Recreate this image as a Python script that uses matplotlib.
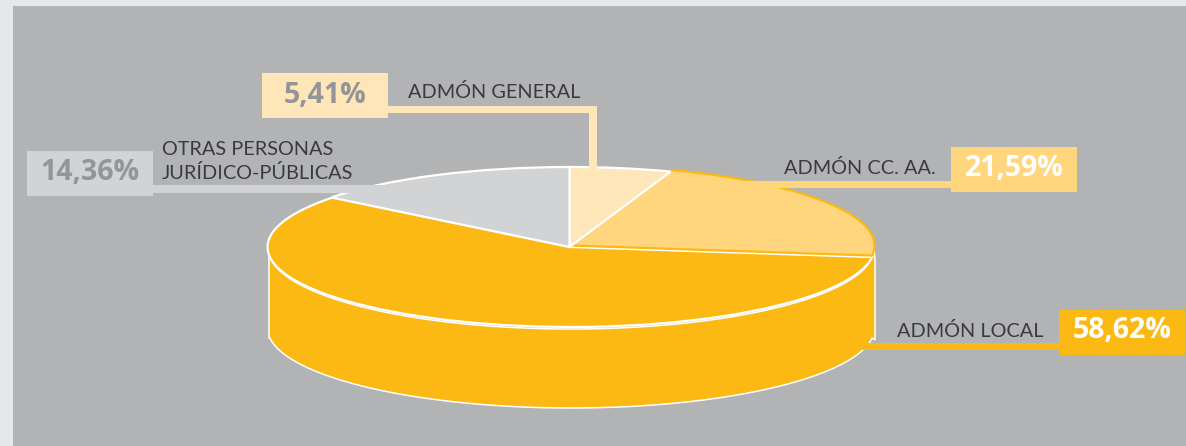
import numpy as np
import matplotlib
matplotlib.use("Agg")
import matplotlib.pyplot as plt
from matplotlib.patches import Rectangle, Polygon
from matplotlib.transforms import Affine2D

# values, clockwise from the top of the pie
names = ["ADMÓN GENERAL", "ADMÓN CC. AA.", "ADMÓN LOCAL", "OTRAS PERSONAS\nJURÍDICO-PÚBLICAS"]
values = [5.41, 21.59, 58.62, 14.36]
value_labels = ["5,41%", "21,59%", "58,62%", "14,36%"]
colors = ["#FFE6B9", "#FFD57E", "#FDB913", "#D1D3D4"]

W, H = 1186, 446
OUTER = "#E6E7E8"
INNER = "#B1B3B5"
ORANGE = "#FDB913"
cx, cy = 571, 247
rx, ry = 303.5, 80
depth = 81

fig = plt.figure(figsize=(W / 100, H / 100), dpi=100, facecolor=OUTER)
ax = fig.add_axes([0, 0, 1, 1])
ax.add_patch(Rectangle((13, 6), W, H, fc=INNER, ec="none", zorder=0))

# side wall of the cylinder
t = np.radians(np.linspace(7.2, 172.8, 200))
bx = cx + rx * np.cos(t)
by = cy + depth + ry * np.sin(t)
t2 = np.radians(np.linspace(180, 0, 200))
tx = cx + rx * np.cos(t2) * 0.997
ty = cy + 2 + ry * np.sin(t2)
wall = np.r_[np.c_[[875, 875], [257, 340]], np.c_[bx, by], np.c_[[269, 269], [338, 255]], np.c_[tx, ty]]
ax.add_patch(Polygon(wall, closed=True, fc=ORANGE, ec="white", lw=1.1, zorder=1))

# top face, pie squashed into an ellipse
wedges, _ = ax.pie(values, colors=colors, startangle=90, counterclock=False, radius=1)
edges = ["white", ORANGE, "white", "white"]
z_order = [5, 4, 3, 5]
shift_x = [-1.5, 0, 0, -1.5]
shift_y = [0, -1.5, 0, 0]
for w, e, z, sx, sy in zip(wedges, edges, z_order, shift_x, shift_y):
    w.set_transform(Affine2D().scale(rx, -ry).translate(cx + sx, cy + sy) + ax.transData)
    w.set_edgecolor(e)
    w.set_linewidth(1.6)
    w.set_zorder(z)
    w.set_clip_on(False)

ax.set_aspect("auto")
ax.set_xlim(0, W)
ax.set_ylim(H, 0)
ax.axis("off")

# leader lines
leaders = [
    (388, 105.5, 209, 7.5, colors[0]),
    (589, 105.5, 8, 70, colors[0]),
    (735, 181, 216, 6.5, colors[1]),
    (857, 343, 202, 6.5, colors[2]),
    (153, 184.5, 235, 8, colors[3]),
]
for x, y, w, h, c in leaders:
    ax.add_patch(Rectangle((x, y), w, h, fc=c, ec="none", zorder=6))

# value boxes
boxes = [(262, 73), (951, 147), (1059, 310), (27, 151)]
value_colors = ["#939598", "white", "white", "#939598"]
value_base = [102.7, 176, 338, 180]
for (x, y), lab, c, tc, b in zip(boxes, value_labels, colors, value_colors, value_base):
    ax.add_patch(Rectangle((x, y), 126, 45, fc=c, ec="none", zorder=7))
    ax.text(x + 63, b, lab, color=tc, family="Open Sans", weight="bold", fontsize=20.5,
            ha="center", va="baseline", zorder=8)

# category labels
label_pos = [(408, 98.3), (784, 174), (897, 337), (162, 155)]
TXT = "#3A3A3C"
for name, (x, y) in zip(names, label_pos):
    for i, line in enumerate(name.split("\n")):
        ax.text(x, y + 24 * i, line, color=TXT, family="Lato", fontsize=14.3,
                ha="left", va="baseline", zorder=8)

fig.savefig("out.png", dpi=100, facecolor=OUTER)
